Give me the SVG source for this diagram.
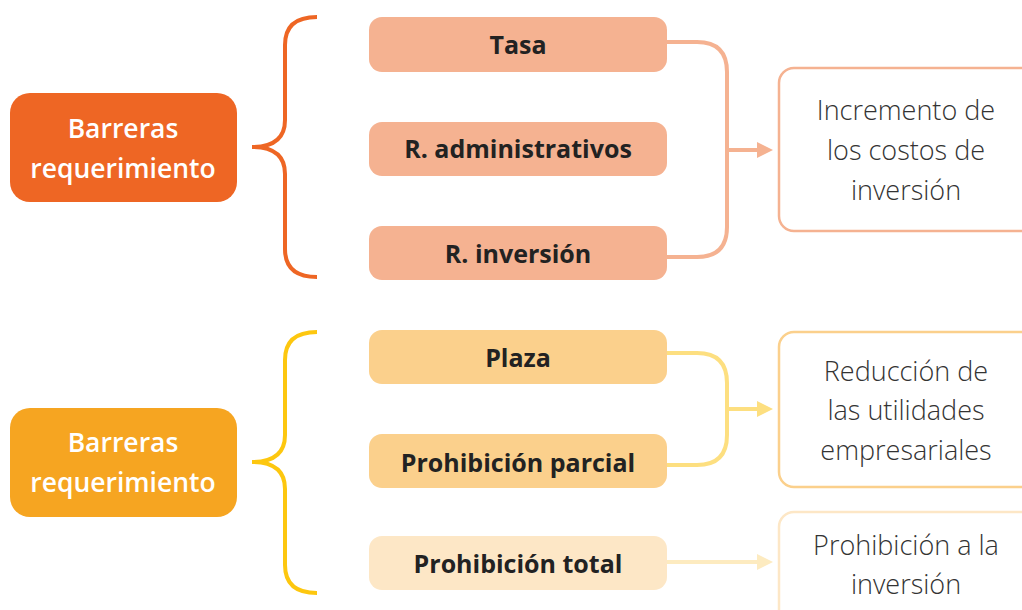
<svg xmlns="http://www.w3.org/2000/svg" width="1022" height="610" viewBox="0 0 1022 610">
<style>
.lead{font-family:"Open Sans",Lato,sans-serif;font-weight:600;font-size:26.5px;fill:#fff;text-anchor:middle}
.item{font-family:"Open Sans",Lato,sans-serif;font-weight:700;font-size:25px;fill:#222;text-anchor:middle}
.res{font-family:"Open Sans",Lato,sans-serif;font-weight:300;font-size:27px;fill:#333;text-anchor:middle}
.line{fill:none;stroke-width:4;stroke-linecap:butt}
</style>
<defs>
<marker id="a2" viewBox="0 0 16 16" refX="0" refY="8" markerWidth="16" markerHeight="16" orient="auto" markerUnits="userSpaceOnUse"><path d="M0,0 L16,8 L0,16 Z" fill="#FDDF80"/></marker>
<marker id="a3" viewBox="0 0 16 16" refX="0" refY="8" markerWidth="16" markerHeight="16" orient="auto" markerUnits="userSpaceOnUse"><path d="M0,0 L16,8 L0,16 Z" fill="#FDEBC0"/></marker>
<marker id="a0" viewBox="0 0 16 16" refX="0" refY="8" markerWidth="16" markerHeight="16" orient="auto" markerUnits="userSpaceOnUse"><path d="M0,0 L16,8 L0,16 Z" fill="#F5B291"/></marker>
</defs>

<g id="lead1"><rect x="10" y="93" width="227" height="109" rx="20" fill="#EE6624"/><text class="lead" x="123" y="138">Barreras</text><text class="lead" x="123" y="178">requerimiento</text></g>
<g id="lead2"><rect x="10" y="408" width="227" height="109" rx="20" fill="#F6A521"/><text class="lead" x="123" y="452">Barreras</text><text class="lead" x="123" y="492">requerimiento</text></g>

<g id="brace1"><path class="line" stroke="#EE6624" d="M317,17 Q285,17 285,45 L285,120 C285,140 272,147 252,147 C272,147 285,154 285,174 L285,249 Q285,277 317,277"/></g>
<g id="brace2"><path class="line" stroke="#FDC70F" d="M317,332 Q285,332 285,360 L285,435 C285,455 272,462 252,462 C272,462 285,469 285,489 L285,565 Q285,593 317,593"/></g>

<g id="tasa"><rect x="369" y="17" width="298" height="55" rx="13" fill="#F5B291"/><text class="item" x="518" y="54">Tasa</text></g>
<g id="radm"><rect x="369" y="122" width="298" height="54" rx="13" fill="#F5B291"/><text class="item" x="518" y="158">R. administrativos</text></g>
<g id="rinv"><rect x="369" y="226" width="298" height="54" rx="13" fill="#F5B291"/><text class="item" x="518" y="263">R. inversión</text></g>
<g id="plaza"><rect x="369" y="330" width="298" height="54" rx="13" fill="#FBD08C"/><text class="item" x="518" y="367">Plaza</text></g>
<g id="pparc"><rect x="369" y="434" width="298" height="54" rx="13" fill="#FBD08C"/><text class="item" x="518" y="472">Prohibición parcial</text></g>
<g id="ptot"><rect x="369" y="536" width="298" height="54" rx="13" fill="#FDE7C6"/><text class="item" x="518" y="573">Prohibición total</text></g>

<g id="res1"><rect x="779" y="68" width="260" height="163" rx="15" fill="#fff" stroke="#F5B291" stroke-width="2.5"/><text class="res" x="906" y="120">Incremento de</text><text class="res" x="906" y="160">los costos de</text><text class="res" x="906" y="200">inversión</text></g>
<g id="res2"><rect x="779" y="332" width="260" height="155" rx="15" fill="#fff" stroke="#FBD08C" stroke-width="2.5"/><text class="res" x="906" y="381">Reducción de</text><text class="res" x="906" y="420">las utilidades</text><text class="res" x="906" y="460">empresariales</text></g>
<g id="res3"><rect x="779" y="512" width="260" height="120" rx="15" fill="#fff" stroke="#FDE7C6" stroke-width="2.5"/><text class="res" x="906" y="555">Prohibición a la</text><text class="res" x="906" y="594">inversión</text></g>

<g id="connectors">
<path class="line" stroke="#F5B291" d="M667,42 L697,42 Q727,42 727,72 L727,227 Q727,257 697,257 L667,257"/>
<path class="line" stroke="#F5B291" d="M727,150 L757,150" marker-end="url(#a0)"/>
<path class="line" stroke="#FDDF80" d="M667,353 L697,353 Q727,353 727,383 L727,435 Q727,465 697,465 L667,465"/>
<path class="line" stroke="#FDDF80" d="M727,409 L757,409" marker-end="url(#a2)"/>
<path class="line" stroke="#FDEBC0" d="M667,562 L757,562" marker-end="url(#a3)"/>
</g>
</svg>
